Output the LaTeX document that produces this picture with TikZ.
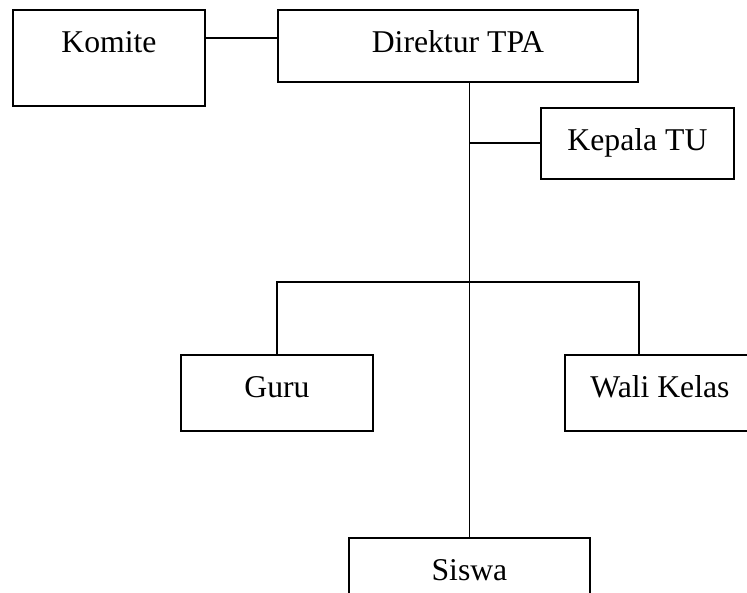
\documentclass[tikz,border=0pt]{standalone}
\usepackage{fontspec}
\setmainfont{Liberation Serif}
\usepackage{tikz}
\usetikzlibrary{positioning}

\begin{document}
\begin{tikzpicture}[
    x=1pt, y=-1pt,
    unit/.style={
      draw,
      fill=white,
      line width=1.9pt,
      anchor=north west,
      inner sep=0pt,
      text height=43pt,
      font=\fontsize{31.7}{38}\selectfont
    },
    link/.style={
      line width=1.9pt
    }
]

% Frame of the picture
\clip (0,0) rectangle (747,593);

% Top level
\node (direktur) [unit, minimum width=360pt, text depth=29pt] at (277,9) {Direktur TPA};
\node (komite) [unit, minimum width=192pt, text depth=53pt] at (12,9) {Komite};
\draw [link] ([yshift=-29pt]komite.north east) -- ([yshift=-29pt]direktur.north west);

% Staff
\node (kepala) [unit, minimum width=193pt, text depth=28pt] at (540,107) {Kepala TU};

% Teachers
\node (guru) [unit, minimum width=192pt, text depth=33pt] at (180,354) {Guru};
\node (wali) [unit, minimum width=190pt, text depth=33pt] at (564,354) {Wali Kelas};

% Students
\node (siswa) [unit, minimum width=241pt, text depth=50pt] at (348,537) {Siswa};

% Main line
\draw [link] (siswa.north |- direktur.south) -- (siswa.north);
\draw [link] (kepala.west) -- (kepala.west -| siswa.north);

% Branch to Guru and Wali Kelas
\coordinate (fork) at ([yshift=72pt]guru.north);
\draw [link] (guru.north) -- (fork) -- (fork -| direktur.east) -- (direktur.east |- wali.north);

\end{tikzpicture}
\end{document}
